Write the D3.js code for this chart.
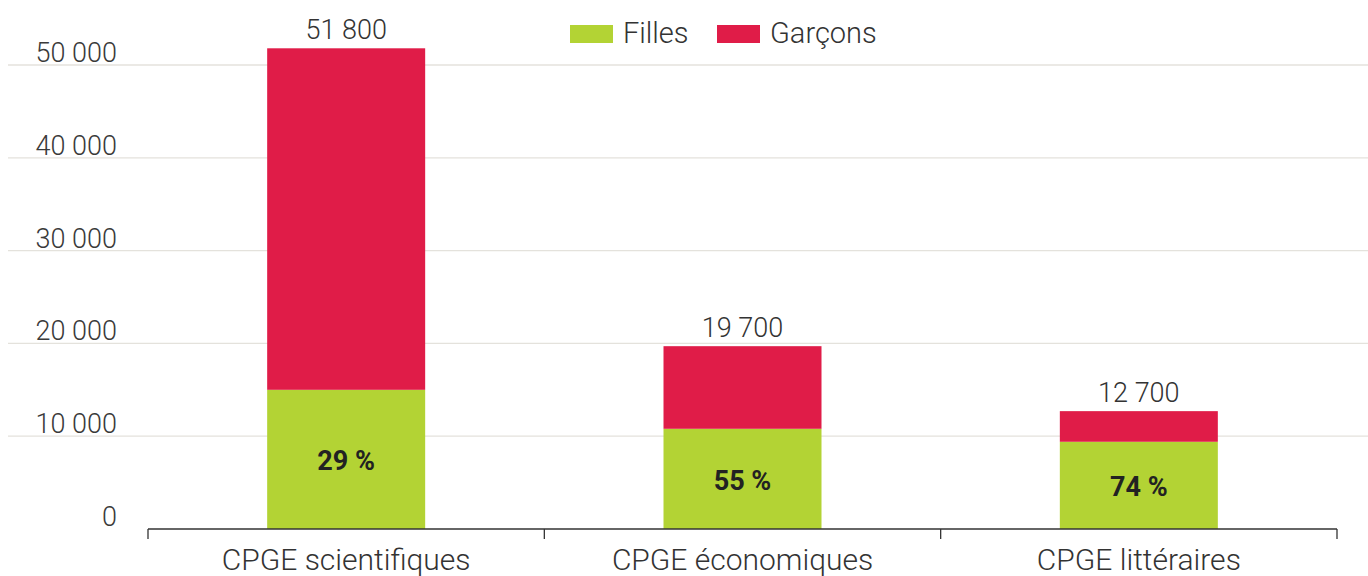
<!DOCTYPE html>
<html>
<head>
<meta charset="utf-8">
<title>CPGE filles / garçons</title>
<style>
  body { margin: 0; background: #fff; font-family: 'Roboto', sans-serif; }
  svg text { font-family: 'Roboto', sans-serif; }
</style>
<script src="https://d3js.org/d3.v7.min.js"></script>
</head>
<body>
<div id="chart"></div>
<script>
// ******* Data *******
const categories = ["CPGE scientifiques", "CPGE économiques", "CPGE littéraires"];
const filles = [15000, 10800, 9400];
const garcons = [36800, 8900, 3300];
const totalLabels = ["51 800", "19 700", "12 700"];
const shareLabels = ["29 %", "55 %", "74 %"];
const yTicks = [0, 10000, 20000, 30000, 40000, 50000];

const width = 1368, height = 576;
const green = "#b3d334", red = "#e01c48";

const rows = categories.map((c, i) => ({cat: c, filles: filles[i], garcons: garcons[i]}));

// ******* Scales *******
const x = d3.scaleBand().domain(categories).range([148, 1337]).paddingInner(0).paddingOuter(0);
const y = d3.scaleLinear().domain([0, 50000]).range([529, 65]);
const barW = 158;

const svg = d3.select("#chart").append("svg")
    .attr("width", width)
    .attr("height", height);

// gridlines + y labels
svg.selectAll("line.grid")
    .data(yTicks.filter(d => d > 0))
    .enter().append("line")
    .attr("class", "grid")
    .attr("x1", 8).attr("x2", width)
    .attr("y1", d => y(d)).attr("y2", d => y(d))
    .attr("stroke", "#e4e2dc")
    .attr("stroke-width", 1.3);

svg.selectAll("text.ylab")
    .data(yTicks)
    .enter().append("text")
    .attr("class", "ylab")
    .attr("x", 117)
    .attr("y", d => y(d) - 3)
    .attr("text-anchor", "end")
    .attr("font-size", 27)
    .attr("font-weight", 300)
    .attr("fill", "#3a3a3a")
    .text(d => d3.format(",")(d).replace(/,/g, " "));

// stacked bars
const stack = d3.stack().keys(["filles", "garcons"])(rows);
const colors = {filles: green, garcons: red};

svg.selectAll("g.layer")
    .data(stack)
    .enter().append("g")
    .attr("class", "layer")
    .attr("fill", d => colors[d.key])
    .selectAll("rect")
    .data(d => d)
    .enter().append("rect")
    .attr("x", d => x(d.data.cat) + (x.bandwidth() - barW) / 2)
    .attr("width", barW)
    .attr("y", d => y(d[1]))
    .attr("height", d => y(d[0]) - y(d[1]));

// x axis
const xAxis = svg.append("g").attr("transform", "translate(0,529)");
xAxis.append("line")
    .attr("x1", 148).attr("x2", 1337)
    .attr("stroke", "#333").attr("stroke-width", 1.3);
const edges = categories.map(c => x(c)).concat([x(categories[categories.length - 1]) + x.bandwidth()]);
xAxis.selectAll("line.tick")
    .data(edges)
    .enter().append("line")
    .attr("class", "tick")
    .attr("x1", d => d).attr("x2", d => d)
    .attr("y1", 0).attr("y2", 10)
    .attr("stroke", "#333").attr("stroke-width", 1.3);
xAxis.selectAll("text")
    .data(categories)
    .enter().append("text")
    .attr("x", d => x(d) + x.bandwidth() / 2)
    .attr("y", 41)
    .attr("text-anchor", "middle")
    .attr("font-size", 30)
    .attr("font-weight", 300)
    .attr("fill", "#333")
    .text(d => d);

// total labels
svg.selectAll("text.total")
    .data(rows)
    .enter().append("text")
    .attr("class", "total")
    .attr("x", d => x(d.cat) + x.bandwidth() / 2)
    .attr("y", d => y(d.filles + d.garcons) - 9)
    .attr("text-anchor", "middle")
    .attr("font-size", 27)
    .attr("font-weight", 300)
    .attr("fill", "#333")
    .text((d, i) => totalLabels[i]);

// share labels
svg.selectAll("text.share")
    .data(rows)
    .enter().append("text")
    .attr("class", "share")
    .attr("x", d => x(d.cat) + x.bandwidth() / 2)
    .attr("y", d => (y(0) + y(d.filles)) / 2 + 11)
    .attr("text-anchor", "middle")
    .attr("font-size", 27)
    .attr("font-weight", 700)
    .attr("fill", "#222")
    .text((d, i) => shareLabels[i]);

// legend
const legend = [{label: "Filles", color: green, x: 570}, {label: "Garçons", color: red, x: 717}];
const lg = svg.selectAll("g.legend")
    .data(legend)
    .enter().append("g")
    .attr("class", "legend")
    .attr("transform", d => `translate(${d.x},25)`);
lg.append("rect").attr("width", 43).attr("height", 18).attr("fill", d => d.color);
lg.append("text")
    .attr("x", 53).attr("y", 18)
    .attr("font-size", 29)
    .attr("font-weight", 300)
    .attr("fill", "#333")
    .text(d => d.label);
</script>
</body>
</html>
